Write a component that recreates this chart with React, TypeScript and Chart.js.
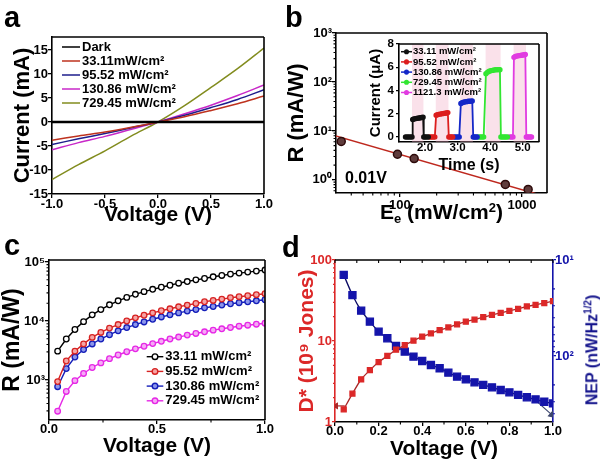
import React, { useEffect, useRef } from 'react';
import { Chart, registerables } from 'chart.js';
Chart.register(...registerables);

const FONT = "'Liberation Sans', Arial, Helvetica, sans-serif";
const NARROW = "'Liberation Sans Narrow', 'Arial Narrow', 'Liberation Sans', Arial, sans-serif";

// ---------------- Panel a : I-V curves ----------------
const A_VOLT = [-1, -0.75, -0.5, -0.25, 0, 0.25, 0.5, 0.75, 1];
const A_I_DARK = [0, 0, 0, 0, 0, 0, 0, 0, 0];
const A_I_33 = [-3.8, -2.9, -2.1, -1.1, 0, 1.1, 2.4, 3.8, 5.4];
const A_I_95 = [-4.7, -3.5, -2.4, -1.2, 0, 1.4, 3.0, 4.7, 6.7];
const A_I_130 = [-5.8, -4.3, -3.0, -1.5, 0, 1.7, 3.5, 5.5, 7.7];
const A_I_729 = [-12.0, -8.9, -6.0, -2.9, 0, 3.4, 7.2, 11.1, 15.4];
const A_LABELS = ['Dark', '33.11mW/cm²', '95.52 mW/cm²', '130.86 mW/cm²', '729.45 mW/cm²'];
const A_X_TICKS = [-1, -0.5, 0, 0.5, 1];
const A_Y_TICKS = [-15, -10, -5, 0, 5, 10, 15];

// ---------------- Panel b : responsivity vs intensity ----------------
const B_E = [33.11, 95.52, 130.86, 729.45, 1121.3];
const B_R = [6.1, 3.34, 2.72, 0.81, 0.64];
const B_FIT_E = [25, 1500];
const B_FIT_R = [9.0, 0.47];
const B_X_TICKS = [100, 1000];
const B_X_LABELS = ['100', '1000'];
const B_Y_TICKS = [1, 10, 100, 1000];
const B_Y_LABELS = ['10⁰', '10¹', '10²', '10³'];
const B_X_MINOR = [40, 50, 60, 70, 80, 90, 200, 300, 400, 500, 600, 700, 800, 900];
const B_Y_MINOR = [0.6, 0.7, 0.8, 0.9, 2, 3, 4, 5, 6, 7, 8, 9, 20, 30, 40, 50, 60, 70, 80, 90, 200, 300, 400, 500, 600, 700, 800, 900];

// inset: photocurrent pulses
const BI_T_33 = [1.40, 1.45, 1.50, 1.55, 1.60, 1.62, 1.66, 1.70, 1.74, 1.78, 1.82, 1.86, 1.90, 1.94, 1.96, 2.00, 2.05, 2.10];
const BI_I_33 = [0, 0, 0, 0, 0, 1.50, 1.55, 1.58, 1.60, 1.62, 1.64, 1.66, 1.68, 1.70, 0, 0, 0, 0];
const BI_T_95 = [2.15, 2.20, 2.25, 2.30, 2.34, 2.38, 2.42, 2.46, 2.50, 2.54, 2.58, 2.62, 2.66, 2.70, 2.73, 2.77, 2.81, 2.85];
const BI_I_95 = [0, 0, 0, 0, 1.88, 1.92, 1.95, 1.97, 1.99, 2.01, 2.03, 2.05, 2.07, 2.10, 0, 0, 0, 0];
const BI_T_130 = [2.90, 2.95, 3.00, 3.05, 3.10, 3.14, 3.18, 3.22, 3.26, 3.30, 3.34, 3.38, 3.42, 3.45, 3.48, 3.52, 3.56, 3.60];
const BI_I_130 = [0, 0, 0, 0, 2.88, 2.95, 2.99, 3.02, 3.04, 3.06, 3.07, 3.08, 3.09, 3.10, 0, 0, 0, 0];
const BI_T_729 = [3.65, 3.70, 3.75, 3.80, 3.87, 3.92, 3.97, 4.02, 4.07, 4.12, 4.17, 4.22, 4.27, 4.30, 4.33, 4.38, 4.43, 4.48, 4.53];
const BI_I_729 = [0, 0, 0, 0, 5.45, 5.58, 5.65, 5.70, 5.73, 5.76, 5.78, 5.79, 5.80, 5.78, 0, 0, 0, 0, 0];
const BI_T_1121 = [4.60, 4.65, 4.70, 4.73, 4.77, 4.81, 4.85, 4.89, 4.93, 4.97, 5.01, 5.05, 5.08, 5.11, 5.15, 5.19, 5.23, 5.27];
const BI_I_1121 = [0, 0, 0, 6.85, 6.92, 6.96, 6.98, 7.00, 7.02, 7.03, 7.05, 7.08, 7.10, 0, 0, 0, 0, 0];
const BI_LABELS = ['33.11 mW/cm²', '95.52 mW/cm²', '130.86 mW/cm²', '729.45 mW/cm²', '1121.3 mW/cm²'];
const BI_ON_START = [1.60, 2.33, 3.08, 3.86, 4.72];
const BI_ON_END = [1.95, 2.72, 3.47, 4.32, 5.10];
const BI_X_TICKS = [2, 3, 4, 5];
const BI_Y_TICKS = [0, 2, 4, 6, 8];

// ---------------- Panel c : R vs voltage ----------------
const C_VOLT = [0.04, 0.08, 0.12, 0.16, 0.20, 0.24, 0.28, 0.32, 0.36, 0.40, 0.44, 0.48, 0.52, 0.56, 0.60, 0.64, 0.68, 0.72, 0.76, 0.80, 0.84, 0.88, 0.92, 0.96, 1.00];
const C_R_33 = [3080, 4950, 7170, 9750, 12700, 15600, 18800, 22000, 25100, 28300, 31400, 34400, 37300, 40300, 43700, 46600, 49800, 52500, 56100, 59100, 62300, 64800, 67400, 70100, 72900];
const C_R_95 = [940, 2100, 3080, 4090, 5270, 6400, 7570, 8700, 10000, 11300, 12500, 13700, 14900, 16100, 17400, 18600, 19800, 21200, 22300, 23500, 24800, 25800, 26800, 27900, 29000];
const C_R_130 = [770, 1560, 2450, 3280, 4080, 4950, 5850, 6810, 7740, 8700, 9640, 10700, 11700, 12700, 13700, 14700, 15600, 16700, 17600, 18600, 19600, 20400, 21200, 22000, 22900];
const C_R_729 = [296, 640, 975, 1290, 1630, 1950, 2300, 2650, 3010, 3370, 3730, 4140, 4530, 4950, 5340, 5770, 6150, 6560, 7000, 7370, 7760, 8160, 8480, 8820, 9170];
const C_LABELS = ['33.11 mW/cm²', '95.52 mW/cm²', '130.86 mW/cm²', '729.45 mW/cm²'];
const C_X_TICKS = [0, 0.5, 1];
const C_Y_TICKS = [1000, 10000, 100000];
const C_Y_LABELS = ['10³', '10⁴', '10⁵'];
const C_Y_MINOR = [300, 400, 500, 600, 700, 800, 900, 2000, 3000, 4000, 5000, 6000, 7000, 8000, 9000, 20000, 30000, 40000, 50000, 60000, 70000, 80000, 90000];
const C_X_MINOR = [0.25, 0.75];

// ---------------- Panel d : D* and NEP ----------------
const D_VOLT = [0.04, 0.08, 0.12, 0.16, 0.20, 0.24, 0.28, 0.32, 0.36, 0.40, 0.44, 0.48, 0.52, 0.56, 0.60, 0.64, 0.68, 0.72, 0.76, 0.80, 0.84, 0.88, 0.92, 0.96, 1.00];
const D_DSTAR = [1.43, 2.24, 3.37, 4.36, 5.5, 6.55, 7.8, 8.9, 10.1, 11.3, 12.4, 13.6, 14.7, 16.0, 17.3, 18.4, 19.7, 21.0, 22.3, 23.6, 25.0, 26.7, 28.0, 29.4, 31.1];
const D_NEP = [14.3, 23.2, 33.7, 43.9, 55.8, 65.4, 78.6, 90.0, 101.5, 112.6, 124, 134, 149, 164, 175, 188, 200, 212, 226, 239, 254, 269, 283, 300, 312];
const D_ARROW_L_V = [0.045, 0.004];
const D_ARROW_L_Y = [1.58, 1.58];
const D_ARROW_R_V = [0.915, 0.995];
const D_ARROW_R_Y = [283, 410];
const D_X_TICKS = [0, 0.2, 0.4, 0.6, 0.8, 1.0];
const D_X_ALL = [0, 0.1, 0.2, 0.3, 0.4, 0.5, 0.6, 0.7, 0.8, 0.9, 1.0];
const D_X_MINOR = [0.1, 0.3, 0.5, 0.7, 0.9];
const D_L_TICKS = [1, 10, 100];
const D_L_LABELS = ['1', '10', '100'];
const D_L_MINOR = [2, 3, 4, 5, 6, 7, 8, 9, 20, 30, 40, 50, 60, 70, 80, 90];
const D_R_TICKS = [10, 100];
const D_R_LABELS = ['10¹', '10²'];
const D_R_MINOR = [20, 30, 40, 50, 60, 70, 80, 90, 200, 300, 400];

// ---------------- colours ----------------
const RED_D = 'rgb(220,40,40)';
const BLUE_N = 'rgb(20,20,170)';

// ---------------- helpers ----------------
const pts = (xs: number[], ys: number[]) => xs.map((x, i) => ({ x, y: ys[i] }));
const tickFont = (size = 13) => ({ family: FONT, size, weight: 'bold' as const, lineHeight: 1 });
const titleFont = (size: number, family = FONT) => ({ family, size, weight: 'bold' as const, lineHeight: 1 });

function axis(opts: {
  type?: string; min: number; max: number; ticks: number[]; labels: string[]; color?: string;
  size: number; vertical: boolean; tickPad: number; fontSize?: number; title?: any; position?: string; reverse?: boolean; tickLen?: number;
}) {
  const color = opts.color || '#000';
  return {
    type: opts.type || 'linear',
    position: opts.position,
    reverse: !!opts.reverse,
    min: opts.min,
    max: opts.max,
    afterBuildTicks: (s: any) => { s.ticks = opts.ticks.map((v) => ({ value: v })); },
    afterFit: (s: any) => { if (opts.vertical) s.width = opts.size; else s.height = opts.size; },
    ticks: {
      autoSkip: false, maxRotation: 0, minRotation: 0,
      padding: opts.tickPad, color,
      font: tickFont(opts.fontSize || 13),
      callback: (_v: any, i: number) => opts.labels[i],
    },
    grid: { display: true, drawOnChartArea: false, drawTicks: true, tickLength: opts.tickLen ?? 4, color, lineWidth: 1.3 },
    border: { display: true, color, width: 1.6 },
    title: opts.title || { display: false },
  };
}

type TickSpec = { scale: string; values: number[]; len: number; color: string; edge: 'top' | 'bottom' | 'left' | 'right'; out: boolean };
type LegendSpec = { dx: number; dy: number; step: number; lineLen: number; gap: number; font: string; lineWidth: number; markerR: number; items: { label: string; color: string; marker?: boolean; fill?: string }[] };
type DecorSpec = { frame?: { edge: string; color: string }[]; ticks?: TickSpec[]; legend?: LegendSpec; bands?: { from: number; to: number }[]; bandColor?: string };

function decor(spec: DecorSpec) {
  return {
    id: 'decor',
    beforeDatasetsDraw(chart: any) {
      if (!spec.bands) return;
      const { ctx, chartArea: ca } = chart;
      const s = chart.scales.x;
      ctx.save();
      ctx.fillStyle = spec.bandColor;
      for (const b of spec.bands) {
        const x1 = s.getPixelForValue(b.from), x2 = s.getPixelForValue(b.to);
        ctx.fillRect(x1, ca.top, x2 - x1, ca.bottom - ca.top);
      }
      ctx.restore();
    },
    afterDraw(chart: any) {
      const { ctx, chartArea: ca } = chart;
      ctx.save();
      for (const f of spec.frame || []) {
        ctx.strokeStyle = f.color; ctx.lineWidth = 1.6; ctx.beginPath();
        if (f.edge === 'top') { ctx.moveTo(ca.left, ca.top); ctx.lineTo(ca.right, ca.top); }
        if (f.edge === 'right') { ctx.moveTo(ca.right, ca.top); ctx.lineTo(ca.right, ca.bottom); }
        ctx.stroke();
      }
      for (const t of spec.ticks || []) {
        const s = chart.scales[t.scale];
        ctx.strokeStyle = t.color; ctx.lineWidth = 1.1; ctx.beginPath();
        const sign = (t.edge === 'bottom' || t.edge === 'right') ? 1 : -1;
        const d = (t.out ? 1 : -1) * sign * t.len;
        for (const v of t.values) {
          const p = s.getPixelForValue(v);
          if (t.edge === 'top' || t.edge === 'bottom') {
            const y0 = t.edge === 'top' ? ca.top : ca.bottom;
            ctx.moveTo(p, y0); ctx.lineTo(p, y0 + d);
          } else {
            const x0 = t.edge === 'left' ? ca.left : ca.right;
            ctx.moveTo(x0, p); ctx.lineTo(x0 + d, p);
          }
        }
        ctx.stroke();
      }
      if (spec.legend) {
        const L = spec.legend;
        ctx.font = L.font; ctx.textBaseline = 'middle'; ctx.textAlign = 'left';
        L.items.forEach((it, i) => {
          const x = ca.left + L.dx, y = ca.top + L.dy + i * L.step;
          ctx.strokeStyle = it.color; ctx.lineWidth = L.lineWidth;
          ctx.beginPath(); ctx.moveTo(x, y); ctx.lineTo(x + L.lineLen, y); ctx.stroke();
          if (it.marker) {
            ctx.beginPath(); ctx.arc(x + L.lineLen / 2, y, L.markerR, 0, Math.PI * 2);
            ctx.fillStyle = it.fill || '#fff'; ctx.fill(); ctx.stroke();
          }
          ctx.fillStyle = '#000';
          ctx.fillText(it.label, x + L.lineLen + L.gap, y);
        });
      }
      ctx.restore();
    },
  };
}

const baseOpts = (padding: any) => ({
  animation: false,
  responsive: false,
  maintainAspectRatio: false,
  layout: { padding },
  plugins: { legend: { display: false }, tooltip: { enabled: false } },
});

// ---------------- chart configs ----------------
function configA() {
  const series = [
    { y: A_I_DARK, color: '#000', w: 2.4 },
    { y: A_I_33, color: 'rgb(190,50,30)', w: 1.5 },
    { y: A_I_95, color: 'rgb(30,30,140)', w: 1.5 },
    { y: A_I_130, color: 'rgb(200,40,200)', w: 1.5 },
    { y: A_I_729, color: 'rgb(130,140,30)', w: 1.5 },
  ];
  return {
    type: 'line',
    data: { datasets: series.map((s, i) => ({ label: A_LABELS[i], data: pts(A_VOLT, s.y), borderColor: s.color, borderWidth: s.w, pointRadius: 0, tension: 0.35, fill: false })) },
    options: {
      ...baseOpts({ top: 37, right: 36, left: 0, bottom: 0 }),
      scales: {
        x: axis({ min: -1, max: 1, ticks: A_X_TICKS, labels: A_X_TICKS.map((v) => v.toFixed(1)), size: 36, vertical: false, tickPad: 0,
          title: { display: true, text: 'Voltage (V)', color: '#000', font: titleFont(21, NARROW), padding: { top: 0, bottom: 4 } } }),
        y: axis({ min: -15, max: 17.7, ticks: A_Y_TICKS, labels: A_Y_TICKS.map(String), size: 52, vertical: true, tickPad: 0,
          title: { display: true, text: 'Current (mA)', color: '#000', font: titleFont(22), padding: { top: 11.5, bottom: 0 } } }),
      },
    },
    plugins: [decor({
      frame: [{ edge: 'top', color: '#000' }, { edge: 'right', color: '#000' }],
      legend: { dx: 10, dy: 10, step: 14, lineLen: 18, gap: 2, font: `bold 13px ${FONT}`, lineWidth: 1.5, markerR: 0,
        items: series.map((s, i) => ({ label: A_LABELS[i], color: s.color })) },
    })],
  };
}

function configB() {
  return {
    type: 'scatter',
    data: {
      datasets: [
        { data: pts(B_E, B_R), pointRadius: 4, pointBorderWidth: 1.5, pointBackgroundColor: 'rgb(95,60,60)', pointBorderColor: 'rgb(45,10,10)', showLine: false },
        { data: pts(B_FIT_E, B_FIT_R), showLine: true, borderColor: 'rgb(190,40,30)', borderWidth: 1.5, pointRadius: 0 },
      ],
    },
    options: {
      ...baseOpts({ top: 33, right: 53, left: 0, bottom: 0 }),
      scales: {
        x: axis({ type: 'logarithmic', min: 30, max: 1600, ticks: B_X_TICKS, labels: B_X_LABELS, size: 37, vertical: false, tickPad: 1.5 }),
        y: axis({ type: 'logarithmic', min: 0.54, max: 1000, ticks: B_Y_TICKS, labels: B_Y_LABELS, size: 53, vertical: true, tickPad: 0,
          title: { display: true, text: 'R (mA/W)', color: '#000', font: titleFont(22), padding: { top: 2.5, bottom: 0 } } }),
      },
    },
    plugins: [decor({
      frame: [{ edge: 'top', color: '#000' }, { edge: 'right', color: '#000' }],
      ticks: [
        { scale: 'x', values: B_X_MINOR, len: 2.5, color: '#000', edge: 'bottom', out: true },
        { scale: 'y', values: B_Y_MINOR, len: 2.5, color: '#000', edge: 'left', out: true },
      ],
    })],
  };
}

function configBInset() {
  const series = [
    { t: BI_T_33, i: BI_I_33, color: '#111' },
    { t: BI_T_95, i: BI_I_95, color: 'rgb(220,30,30)' },
    { t: BI_T_130, i: BI_I_130, color: 'rgb(20,40,200)' },
    { t: BI_T_729, i: BI_I_729, color: 'rgb(50,230,50)' },
    { t: BI_T_1121, i: BI_I_1121, color: 'rgb(225,60,225)' },
  ];
  return {
    type: 'line',
    data: { datasets: series.map((s) => ({ data: pts(s.t, s.i), borderColor: s.color, backgroundColor: s.color, borderWidth: 1.8, pointRadius: 1.8, pointBackgroundColor: s.color, pointBorderColor: s.color, tension: 0 })) },
    options: {
      ...baseOpts({ top: 8, right: 6, left: 0, bottom: 0 }),
      scales: {
        x: axis({ min: 1.2, max: 5.5, ticks: BI_X_TICKS, labels: BI_X_TICKS.map((v) => v.toFixed(1)), size: 34, vertical: false, tickPad: -3, fontSize: 11.5, tickLen: 3,
          title: { display: true, text: 'Time (s)', color: '#000', font: titleFont(16), padding: { top: 0, bottom: 2 } } }),
        y: axis({ min: -0.43, max: 8, ticks: BI_Y_TICKS, labels: BI_Y_TICKS.map(String), size: 44, vertical: true, tickPad: 2, fontSize: 11.5, tickLen: 3,
          title: { display: true, text: 'Current (μA)', color: '#000', font: titleFont(15), padding: { top: 13.5, bottom: 0 } } }),
      },
    },
    plugins: [decor({
      frame: [{ edge: 'top', color: '#000' }, { edge: 'right', color: '#000' }],
      bands: BI_ON_START.map((s, i) => ({ from: s, to: BI_ON_END[i] })),
      bandColor: 'rgba(240,170,195,0.35)',
      legend: { dx: 2, dy: 7.7, step: 10.2, lineLen: 11, gap: 1, font: `bold 9.5px ${FONT}`, lineWidth: 1.5, markerR: 1.8,
        items: series.map((s, i) => ({ label: BI_LABELS[i], color: s.color, marker: true, fill: s.color })) },
    })],
  };
}

function configC() {
  const series = [
    { y: C_R_33, color: '#000', fill: '#fff' },
    { y: C_R_95, color: 'rgb(215,35,35)', fill: 'rgb(245,165,165)' },
    { y: C_R_130, color: 'rgb(20,30,185)', fill: 'rgb(140,150,235)' },
    { y: C_R_729, color: 'rgb(230,40,230)', fill: 'rgb(245,170,245)' },
  ];
  return {
    type: 'line',
    data: { datasets: series.map((s) => ({ data: pts(C_VOLT, s.y), borderColor: s.color, borderWidth: 1.4, pointRadius: 2.8, pointBorderWidth: 1.3, pointBackgroundColor: s.fill, pointBorderColor: s.color, tension: 0 })) },
    options: {
      ...baseOpts({ top: 30, right: 35, left: 0, bottom: 0 }),
      scales: {
        x: axis({ min: 0, max: 1, ticks: C_X_TICKS, labels: C_X_TICKS.map((v) => v.toFixed(1)), size: 45, vertical: false, tickPad: -1,
          title: { display: true, text: 'Voltage (V)', color: '#000', font: titleFont(21, NARROW), padding: { top: 0, bottom: 8.5 } } }),
        y: axis({ type: 'logarithmic', min: 210, max: 108000, ticks: C_Y_TICKS, labels: C_Y_LABELS, size: 49, vertical: true, tickPad: 0,
          title: { display: true, text: 'R (mA/W)', color: '#000', font: titleFont(23), padding: { top: 1, bottom: 0 } } }),
      },
    },
    plugins: [decor({
      frame: [{ edge: 'top', color: '#000' }, { edge: 'right', color: '#000' }],
      ticks: [
        { scale: 'y', values: C_Y_MINOR, len: 2.5, color: '#000', edge: 'left', out: true },
        { scale: 'x', values: C_X_MINOR, len: 2.5, color: '#000', edge: 'bottom', out: true },
      ],
      legend: { dx: 97.7, dy: 96.7, step: 14.7, lineLen: 16.6, gap: 2, font: `bold 13px ${FONT}`, lineWidth: 1.4, markerR: 2.8,
        items: series.map((s, i) => ({ label: C_LABELS[i], color: s.color, marker: true, fill: s.fill })) },
    })],
  };
}

function configD() {
  return {
    type: 'line',
    data: {
      datasets: [
        { data: pts(D_VOLT, D_DSTAR), yAxisID: 'y', borderColor: 'rgb(170,40,40)', borderWidth: 1.3, pointStyle: 'rect', pointRadius: 3.5, pointBackgroundColor: RED_D, pointBorderColor: RED_D, tension: 0.2 },
        { data: pts(D_VOLT, D_NEP), yAxisID: 'y2', borderColor: 'rgb(10,10,100)', borderWidth: 1.3, pointStyle: 'rect', pointRadius: 5, pointBackgroundColor: BLUE_N, pointBorderColor: BLUE_N, tension: 0.2 },
        { data: pts(D_ARROW_L_V, D_ARROW_L_Y), yAxisID: 'y', borderColor: 'rgb(170,40,40)', backgroundColor: 'rgb(170,40,40)', borderWidth: 1.2, pointStyle: 'triangle', pointRadius: [0, 3], pointRotation: -90, tension: 0 },
        { data: pts(D_ARROW_R_V, D_ARROW_R_Y), yAxisID: 'y2', borderColor: 'rgb(60,70,110)', backgroundColor: 'rgb(60,70,110)', borderWidth: 1.2, pointStyle: 'triangle', pointRadius: [0, 3.5], pointRotation: 132, tension: 0 },
      ],
    },
    options: {
      ...baseOpts({ top: 30, right: 0, left: 0, bottom: 0 }),
      scales: {
        x: axis({ min: 0, max: 1, ticks: D_X_TICKS, labels: D_X_TICKS.map((v) => v.toFixed(1)), size: 43, vertical: false, tickPad: -1,
          title: { display: true, text: 'Voltage (V)', color: '#000', font: titleFont(21, NARROW), padding: { top: 0, bottom: 5.5 } } }),
        y: axis({ type: 'logarithmic', min: 1, max: 100, ticks: D_L_TICKS, labels: D_L_LABELS, color: RED_D, size: 45, vertical: true, tickPad: 0, tickLen: 3,
          title: { display: true, text: 'D* (10⁹ Jones)', color: RED_D, font: titleFont(21), padding: { top: 6.5, bottom: 0 } } }),
        y2: axis({ type: 'logarithmic', position: 'right', reverse: true, min: 10, max: 487, ticks: D_R_TICKS, labels: D_R_LABELS, color: BLUE_N, size: 47, vertical: true, tickPad: -1, tickLen: 3 }),
      },
    },
    plugins: [decor({
      frame: [{ edge: 'top', color: '#000' }],
      ticks: [
        { scale: 'x', values: D_X_ALL, len: 3, color: '#000', edge: 'top', out: false },
        { scale: 'x', values: D_X_MINOR, len: 2.5, color: '#000', edge: 'bottom', out: true },
        { scale: 'y', values: D_L_MINOR, len: 2, color: RED_D, edge: 'left', out: true },
        { scale: 'y2', values: D_R_MINOR, len: 2, color: BLUE_N, edge: 'right', out: true },
      ],
    })],
  };
}

function ChartBox({ left, top, width, height, make }: { left: number; top: number; width: number; height: number; make: () => any }) {
  const ref = useRef<HTMLCanvasElement>(null);
  useEffect(() => {
    const chart = new Chart(ref.current as HTMLCanvasElement, make());
    return () => chart.destroy();
  }, []);
  return <canvas ref={ref} width={width} height={height} style={{ position: 'absolute', left, top, width, height }} />;
}

const letterStyle = (left: number, top: number): React.CSSProperties => ({
  position: 'absolute', left, top, fontFamily: FONT, fontWeight: 'bold', fontSize: 29, lineHeight: '29px', color: '#000',
});

export default function App() {
  return (
    <div style={{ position: 'fixed', left: 0, top: 0, width: 600, height: 465, background: '#fff', overflow: 'hidden' }}>
      <ChartBox left={0} top={0} width={300} height={230} make={configA} />
      <ChartBox left={283} top={0} width={317} height={230} make={configB} />
      <ChartBox left={355} top={36} width={190} height={140} make={configBInset} />
      <ChartBox left={0} top={230} width={300} height={235} make={configC} />
      <ChartBox left={290} top={230} width={310} height={235} make={configD} />
      <div style={letterStyle(4, 3)}>a</div>
      <div style={letterStyle(285, 3)}>b</div>
      <div style={letterStyle(4, 231)}>c</div>
      <div style={letterStyle(282, 233)}>d</div>
      <div style={{ position: 'absolute', left: 345, top: 169.5, fontFamily: FONT, fontWeight: 'bold', fontSize: 16, lineHeight: '16px', color: '#000' }}>0.01V</div>
      <div style={{ position: 'absolute', left: 441.5, top: 213, transform: 'translate(-50%, -50%)', whiteSpace: 'nowrap',
        fontFamily: NARROW, fontWeight: 'bold', fontSize: 21, lineHeight: '21px', color: '#000' }}>
        E<sub style={{ fontSize: 13, verticalAlign: -4 }}>e</sub> (mW/cm<sup style={{ fontSize: 13, verticalAlign: 7 }}>2</sup>)
      </div>
      <div style={{ position: 'absolute', left: 592, top: 350, transform: 'translate(-50%, -50%) rotate(-90deg)', whiteSpace: 'nowrap',
        fontFamily: FONT, fontWeight: 'bold', fontSize: 16, color: 'rgb(20,20,140)' }}>
        NEP (nW/Hz<sup style={{ fontSize: 10 }}>1/2</sup>)
      </div>
    </div>
  );
}
